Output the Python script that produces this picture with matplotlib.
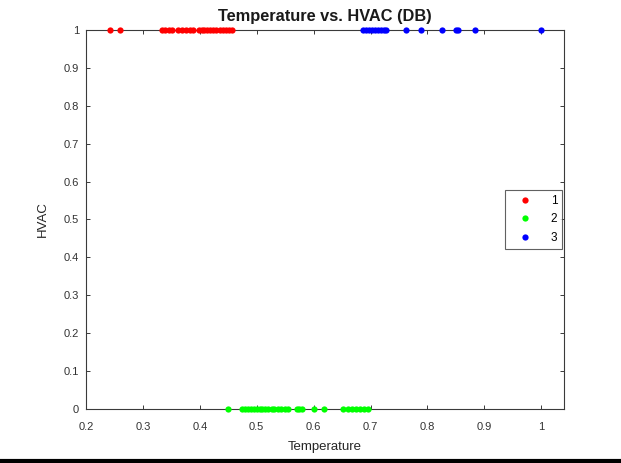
import matplotlib
matplotlib.use("Agg")
import matplotlib.pyplot as plt
from matplotlib.lines import Line2D

plt.rcParams['font.family'] = ['Liberation Sans', 'DejaVu Sans']

red_x = [0.243, 0.260, 0.333, 0.338, 0.345, 0.352, 0.362, 0.368, 0.375, 0.383, 0.388,
         0.398, 0.403, 0.408, 0.413, 0.418, 0.423, 0.428, 0.435, 0.440, 0.446, 0.452, 0.457]
red_y = [1] * len(red_x)
green_x = [0.450, 0.475, 0.480, 0.485, 0.490, 0.495, 0.500, 0.505, 0.510, 0.515, 0.520,
           0.526, 0.531, 0.537, 0.543, 0.549, 0.555, 0.570, 0.575, 0.579, 0.601, 0.619,
           0.651, 0.660, 0.668, 0.675, 0.682, 0.689, 0.696]
green_y = [0] * len(green_x)
blue_x = [0.686, 0.692, 0.698, 0.703, 0.708, 0.713, 0.718, 0.723, 0.728, 0.762, 0.789,
          0.825, 0.850, 0.853, 0.883, 1.0]
blue_y = [1] * len(blue_x)

labels = ['1', '2', '3']
xticks = [0.2, 0.3, 0.4, 0.5, 0.6, 0.7, 0.8, 0.9, 1.0]
xticklabels = ['0.2', '0.3', '0.4', '0.5', '0.6', '0.7', '0.8', '0.9', '1']
yticks = [0, 0.1, 0.2, 0.3, 0.4, 0.5, 0.6, 0.7, 0.8, 0.9, 1.0]
yticklabels = ['0', '0.1', '0.2', '0.3', '0.4', '0.5', '0.6', '0.7', '0.8', '0.9', '1']

fig = plt.figure(figsize=(6.21, 4.63), dpi=100)
ax = fig.add_axes([86/621, 1 - 409/463, (564 - 86)/621, (409 - 30)/463])

ms = 4.5
ax.plot(red_x, red_y, 'o', color=(1, 0, 0), markersize=ms, markeredgewidth=0, label=labels[0],
        clip_on=False, zorder=3)
ax.plot(green_x, green_y, 'o', color=(0, 1, 0), markersize=ms, markeredgewidth=0, label=labels[1],
        clip_on=False, zorder=3)
ax.plot(blue_x, blue_y, 'o', color=(0, 0, 1), markersize=ms, markeredgewidth=0, label=labels[2],
        clip_on=False, zorder=3)

ax.set_xlim(0.2, 1.04)
ax.set_ylim(0, 1)
ax.set_xticks(xticks)
ax.set_xticklabels(xticklabels)
ax.set_yticks(yticks)
ax.set_yticklabels(yticklabels)

sc = '#3a3a3a'
for s in ax.spines.values():
    s.set_color(sc)
    s.set_linewidth(0.8)
ax.tick_params(direction='in', length=3, width=0.7, color=sc, labelcolor='#333333',
               labelsize=8, top=True, right=True, pad=5)
ax.tick_params(axis='x', pad=9.5)

ax.set_xlabel('Temperature', fontsize=9.5, color='#262626', labelpad=6)
ax.set_ylabel('HVAC', fontsize=9.5, color='#262626', labelpad=11)
ax.set_title('Temperature vs. HVAC (DB)', fontsize=11.8, fontweight='bold', color='#1a1a1a', pad=6.5)

leg = ax.legend(loc='center right', bbox_to_anchor=(1.0, 0.5), borderaxespad=0.15, fontsize=8.5,
                frameon=True, fancybox=False, edgecolor='#3a3a3a', handlelength=2.6,
                handletextpad=0.9, borderpad=0.4, labelspacing=0.55, markerscale=1.0)
leg.get_frame().set_linewidth(0.8)

fig.add_artist(Line2D([0, 1], [1 - 461/463, 1 - 461/463], color='black', linewidth=3,
                      transform=fig.transFigure))

fig.savefig('out.png', dpi=100)
